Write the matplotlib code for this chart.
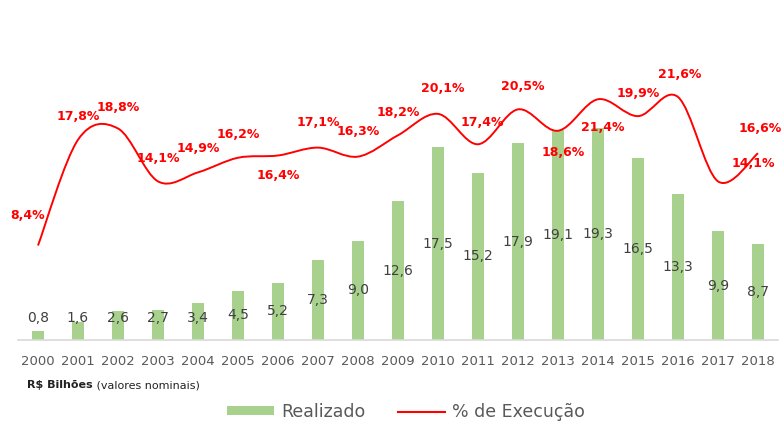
import matplotlib.pyplot as plt
from matplotlib.path import Path
from matplotlib.patches import PathPatch, Patch
from matplotlib.lines import Line2D
import numpy as np

# data
years = [str(y) for y in range(2000, 2019)]
realizado = [0.8, 1.6, 2.6, 2.7, 3.4, 4.5, 5.2, 7.3, 9.0, 12.6, 17.5, 15.2, 17.9, 19.1, 19.3, 16.5, 13.3, 9.9, 8.7]
execucao = [8.4, 17.8, 18.8, 14.1, 14.9, 16.2, 16.4, 17.1, 16.3, 18.2, 20.1, 17.4, 20.5, 18.6, 21.4, 19.9, 21.6, 14.1, 16.6]

# label offsets (pixels) for the % labels, as placed in the original
pct_offsets = [(-10, 30), (0, 23), (0, 21), (0, 23), (0, 24), (0, 23), (0, -20), (0, 25), (0, 25), (0, 23),
               (5, 25), (4, 22), (5, 23), (5, -22), (5, -28), (0, 23), (2, 22), (35, 18), (2, 25)]

GREEN = "#a9d18e"
RED = "#ff0000"
GRAY = "#595959"

fig = plt.figure(figsize=(7.83, 4.22), dpi=100)
ax = fig.add_axes([18 / 783, 82 / 422, 760 / 783, 276 / 422])
x = np.arange(len(years))

ax.bar(x, realizado, width=0.3, color=GREEN, zorder=2)
ax.set_xlim(-0.5, len(years) - 0.5)
ax.set_ylim(0, 276 / 11)
ax.set_xticks(x)
ax.set_xticklabels(years, fontsize=9.5, color=GRAY)
ax.tick_params(axis="x", length=0, pad=11)
ax.set_yticks([])
for s in ["top", "left", "right"]:
    ax.spines[s].set_visible(False)
ax.spines["bottom"].set_color("#d9d9d9")
ax.spines["bottom"].set_linewidth(1.2)

# bar labels
for xi, v in zip(x, realizado):
    ax.text(xi, max(v / 2, 2.0), f"{v:.1f}".replace(".", ","), ha="center", va="center",
            fontsize=10, color="#404040", zorder=4)

# smoothed line on secondary axis
ax2 = ax.twinx()
ax2.set_ylim(0, 276 / 11.25)
ax2.set_yticks([])
for s in ax2.spines.values():
    s.set_visible(False)

pts = np.column_stack([x, execucao]).astype(float)
verts = [pts[0]]
codes = [Path.MOVETO]
n = len(pts)
for i in range(n - 1):
    p0 = pts[max(i - 1, 0)]
    p1 = pts[i]
    p2 = pts[i + 1]
    p3 = pts[min(i + 2, n - 1)]
    c1 = p1 + (p2 - p0) / 6
    c2 = p2 - (p3 - p1) / 6
    verts += [c1, c2, p2]
    codes += [Path.CURVE4] * 3
ax2.add_patch(PathPatch(Path(verts, codes), fill=False, edgecolor=RED, lw=1.4, zorder=3))

for xi, v, (dx, dy) in zip(x, execucao, pct_offsets):
    ax2.annotate(f"{v:.1f}%".replace(".", ","), xy=(xi, v), xytext=(dx, dy), textcoords="offset pixels",
                 ha="center", va="center", fontsize=9, fontweight="bold", color=RED, zorder=5)

t = fig.text(27 / 783, 1 - 385 / 422, "R$ Bilhões", fontsize=8, fontweight="bold", color="#222222", va="center")
ax.annotate(" (valores nominais)", xy=(1, 0.5), xycoords=t, ha="left", va="center",
            fontsize=8, color="#222222", annotation_clip=False)

handles = [Patch(facecolor=GREEN, edgecolor="none"), Line2D([0], [0], color=RED, lw=1.5)]
fig.legend(handles, ["Realizado", "% de Execução"], loc="center", bbox_to_anchor=(406 / 783, 10 / 422),
           ncol=2, frameon=False, fontsize=12.5, labelcolor=GRAY, handlelength=2.7, handleheight=0.45,
           handletextpad=0.4, columnspacing=1.9)

fig.savefig("out.png", dpi=100)
